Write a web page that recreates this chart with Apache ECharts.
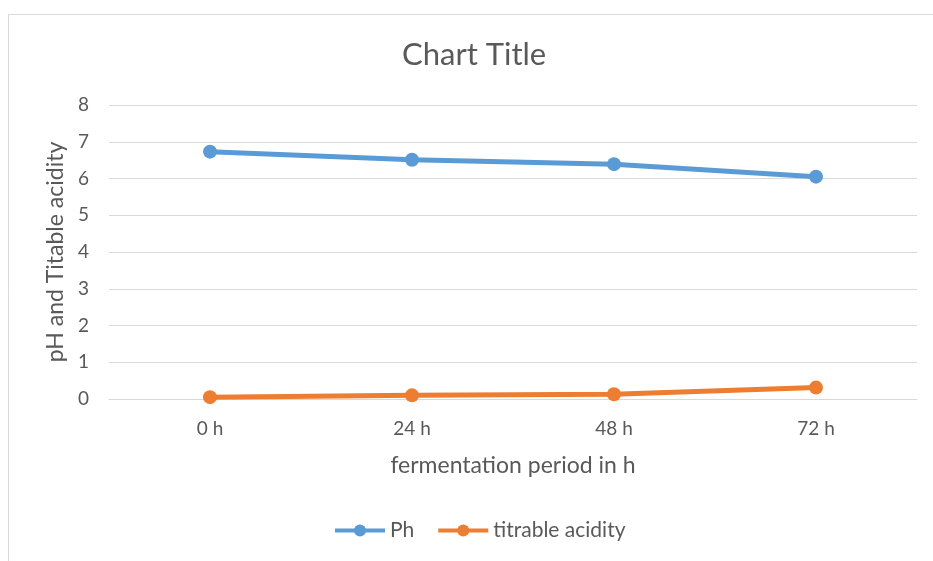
<!DOCTYPE html>
<html>
<head>
<meta charset="utf-8">
<script src="https://cdn.jsdelivr.net/npm/echarts@6/dist/echarts.min.js"></script>
<style>
  html, body { margin: 0; padding: 0; background: #fff; }
  #chart { width: 933px; height: 561px; }
</style>
</head>
<body>
<div id="chart"></div>
<script>
// Fermentation time points and measured values
const periods = ['0 h', '24 h', '48 h', '72 h'];
const phValues = [6.73, 6.51, 6.39, 6.05];
const acidityValues = [0.05, 0.1, 0.13, 0.31];
const yTicks = [0, 1, 2, 3, 4, 5, 6, 7, 8];

const textColor = '#595959';
const font = 'Lato, Carlito, Calibri, sans-serif';

const chart = echarts.init(document.getElementById('chart'));
chart.setOption({
  backgroundColor: '#fff',
  textStyle: { fontFamily: font },
  title: {
    text: 'Chart Title',
    left: 397,
    top: 34,
    textStyle: { fontFamily: font, fontSize: 31, fontWeight: 'normal', color: textColor }
  },
  graphic: [{
    type: 'rect',
    shape: { x: 8.5, y: 14.5, width: 960, height: 600 },
    style: { fill: 'none', stroke: '#d9d9d9', lineWidth: 1 },
    silent: true
  }],
  grid: { left: 109, right: 16, top: 105, bottom: 162 },
  legend: {
    bottom: 15,
    left: 328,
    itemWidth: 50,
    itemHeight: 15,
    itemGap: 22,
    lineStyle: { width: 4 },
    textStyle: { fontFamily: font, fontSize: 21, color: textColor },
    data: ['Ph', 'titrable acidity']
  },
  xAxis: {
    type: 'category',
    data: periods,
    boundaryGap: true,
    name: 'fermentation period in h',
    nameLocation: 'middle',
    nameGap: 55,
    nameTextStyle: { fontFamily: font, fontSize: 23, color: textColor },
    axisLine: { lineStyle: { color: '#d9d9d9', width: 1 } },
    axisTick: { show: false },
    axisLabel: { fontFamily: font, fontSize: 19, color: textColor, margin: 20 }
  },
  yAxis: {
    type: 'value',
    min: yTicks[0],
    max: yTicks[yTicks.length - 1],
    interval: 1,
    name: 'pH and Titable acidity',
    nameLocation: 'middle',
    nameGap: 40,
    nameTextStyle: { fontFamily: font, fontSize: 23, color: textColor },
    axisLine: { show: false },
    axisTick: { show: false },
    axisLabel: { fontFamily: font, fontSize: 19, color: textColor, margin: 20 },
    splitLine: { lineStyle: { color: '#d9d9d9', width: 1 } }
  },
  series: [
    {
      name: 'Ph',
      type: 'line',
      data: phValues,
      symbol: 'circle',
      symbolSize: 14,
      color: '#5B9BD5',
      lineStyle: { width: 5, color: '#5B9BD5' },
      itemStyle: { color: '#5B9BD5' }
    },
    {
      name: 'titrable acidity',
      type: 'line',
      data: acidityValues,
      symbol: 'circle',
      symbolSize: 14,
      color: '#ED7D31',
      lineStyle: { width: 5, color: '#ED7D31' },
      itemStyle: { color: '#ED7D31' }
    }
  ]
});
</script>
</body>
</html>
